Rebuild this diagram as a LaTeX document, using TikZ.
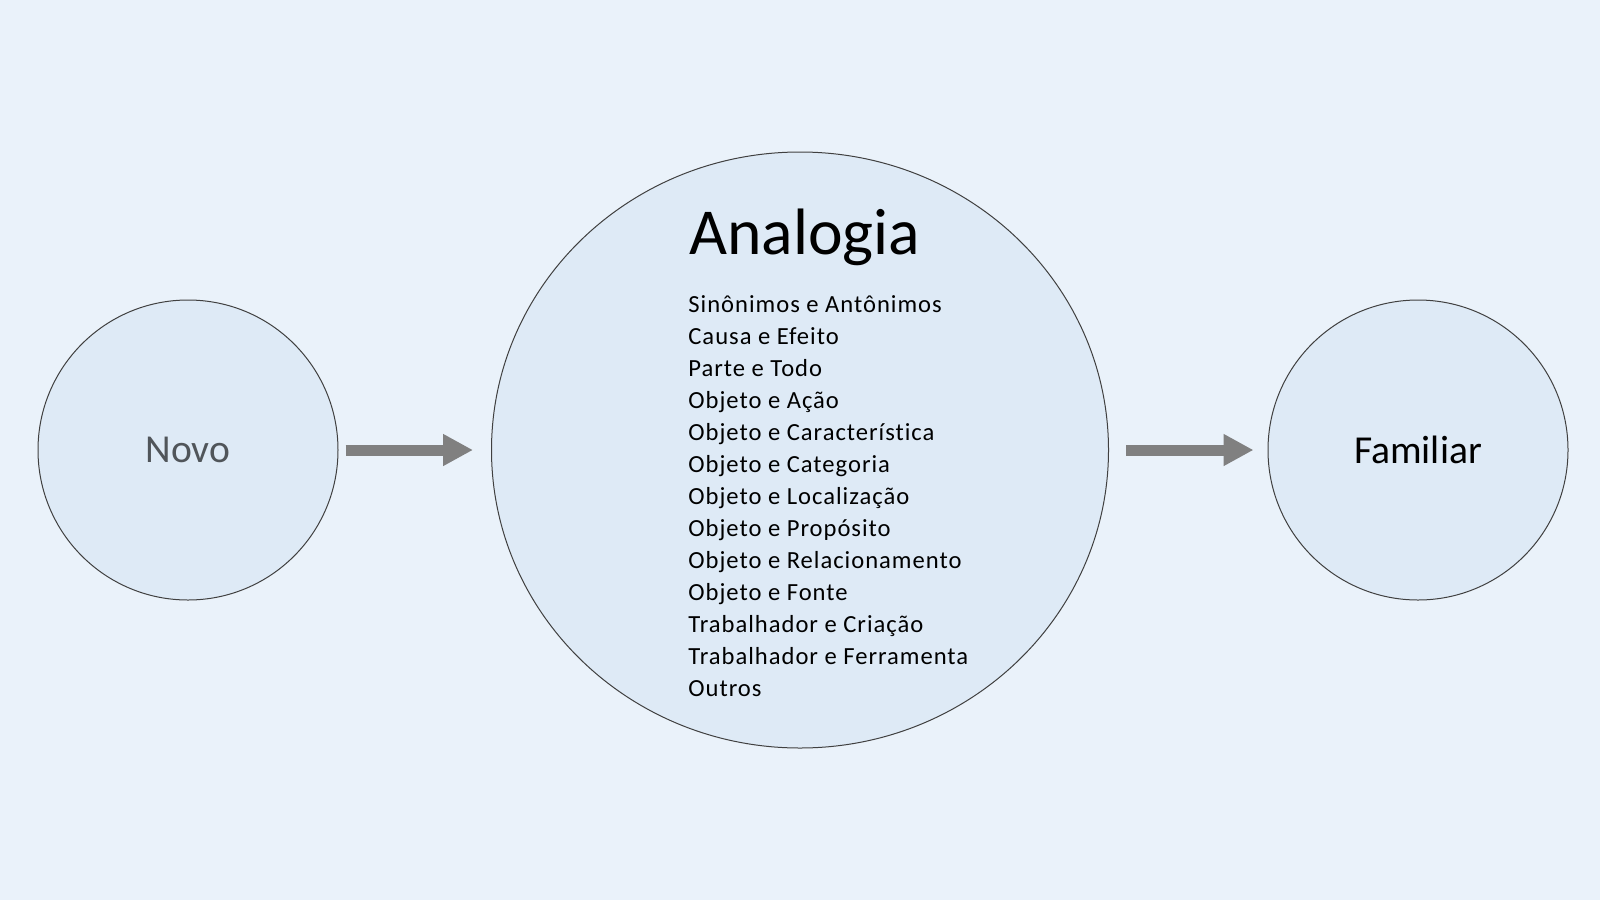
\documentclass[tikz,border=0pt]{standalone}
\usepackage{fontspec}
\setmainfont[Ligatures=NoCommon]{Carlito}
\newfontfamily\listfont[LetterSpace=4,Ligatures=NoCommon]{Carlito}
\usetikzlibrary{shapes.geometric,arrows.meta}
\definecolor{bgBlue}{RGB}{234,242,250}
\definecolor{fillBlue}{RGB}{222,234,246}
\definecolor{edgeGray}{RGB}{64,64,64}
\definecolor{arrowGray}{RGB}{128,128,128}
\definecolor{textGray}{RGB}{80,85,90}
\begin{document}
\begin{tikzpicture}
[x=0.5pt,y=-0.5pt,%
  circleDecorate/.style={shape=circle,minimum size=150pt,inner sep=0pt,
    draw=edgeGray,line width=0.5pt,fill=fillBlue,font=\fontsize{19.8}{23}\selectfont},
  ellipseDecorate/.style={shape=ellipse,minimum width=308.5pt,minimum height=298pt,
    inner sep=0pt,draw=edgeGray,line width=0.5pt,fill=fillBlue},
  arrowDecorate/.style={-{Triangle[length=15pt,width=15pt]},line width=5.5pt,arrowGray},
  itemDecorate/.style={anchor=base west,inner sep=0pt,font=\listfont\fontsize{12.3}{16}\selectfont}]
\useasboundingbox (0,0) rectangle (1600,900);
\fill[bgBlue] (0,0) rectangle (1600,900);
%% nodes or vertices
\node (novo) at (188,450) [circleDecorate,text=textGray] {Novo};
\node (analogia) at (800,450) [ellipseDecorate] {};
\node (familiar) at (1418,450) [circleDecorate] {Familiar};
\node (titulo) at (689,254) [anchor=base west,inner sep=0pt,font=\fontsize{32.8}{38}\selectfont] {Analogia};
\foreach \i/\label in {
  0/Sinônimos e Antônimos, 1/Causa e Efeito, 2/Parte e Todo, 3/Objeto e Ação,
  4/Objeto e Característica, 5/Objeto e Categoria, 6/Objeto e Localização,
  7/Objeto e Propósito, 8/Objeto e Relacionamento, 9/Objeto e Fonte,
  10/Trabalhador e Criação, 11/Trabalhador e Ferramenta, 12/Outros}
{
  \node (item\i) at (688,312+32*\i) [itemDecorate] {\label};
}
%% edges or lines
\draw[arrowDecorate,shorten <=3.5pt,shorten >=9pt] (novo) -- (analogia);
\draw[arrowDecorate,shorten <=8.5pt,shorten >=7pt] (analogia) -- (familiar);
\end{tikzpicture}
\end{document}
